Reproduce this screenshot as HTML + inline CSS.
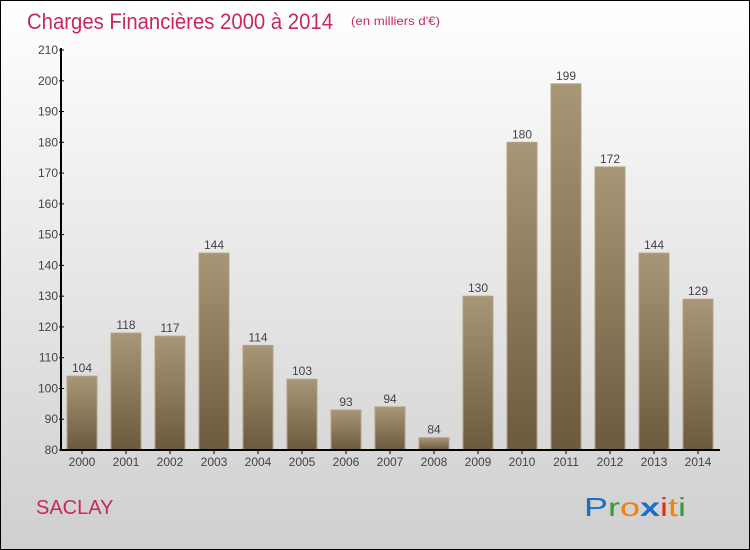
<!DOCTYPE html>
<html><head><meta charset="utf-8"><style>
body{margin:0}
#c{width:750px;height:550px;position:relative;box-sizing:border-box;border:1px solid #000;background:linear-gradient(#fff,#cfcfcf);font-family:"Liberation Sans",sans-serif;overflow:hidden}
</style></head><body>
<div id="c">
<svg width="750" height="550" style="position:absolute;left:-1px;top:-1px">
<defs><linearGradient id="bg" x1="0" y1="0" x2="0" y2="1"><stop offset="0" stop-color="#a89776"/><stop offset="1" stop-color="#6b5a3e"/></linearGradient></defs>
<text x="27" y="29" font-size="22" fill="#c8285a" textLength="306" lengthAdjust="spacingAndGlyphs">Charges Financières 2000 à 2014</text>
<text x="351" y="25" font-size="12" fill="#c8285a" textLength="89" lengthAdjust="spacingAndGlyphs">(en milliers d'€)</text>
<g id="plot"></g>
<text x="36" y="514" font-size="20" fill="#c8285a">SACLAY</text>
<g font-size="26" font-family="Liberation Sans, sans-serif">
<text x="584" y="516" textLength="102" lengthAdjust="spacingAndGlyphs"><tspan fill="#1a6fc8">P</tspan><tspan fill="#3a9a3a">r</tspan><tspan fill="#f08010">o</tspan><tspan fill="#1a6fc8" font-weight="bold">x</tspan><tspan fill="#e03010">i</tspan><tspan fill="#f08010">t</tspan><tspan fill="#3a9a3a">i</tspan></text></g>
</svg>
</div>
<script>
const years=["2000","2001","2002","2003","2004","2005","2006","2007","2008","2009","2010","2011","2012","2013","2014"];
const values=[104,118,117,144,114,103,93,94,84,130,180,199,172,144,129];
const yTicks=[80,90,100,110,120,130,140,150,160,170,180,190,200,210];
const NS="http://www.w3.org/2000/svg";
const g=document.getElementById('plot');
const y=v=>450-(v-80)*400/130;
const x=i=>82+i*44;
function mk(t,a,txt){const e=document.createElementNS(NS,t);for(const k in a)e.setAttribute(k,a[k]);if(txt!==undefined)e.textContent=txt;g.appendChild(e);return e;}
values.forEach((v,i)=>{
 const r=mk('rect',{x:x(i)-15,y:y(v),width:30,height:450-y(v),fill:'url(#bg)',stroke:'#b3a283','stroke-width':1});
 
 
 const l=mk('text',{x:x(i),y:y(v)-4,'font-size':12,fill:'#444','text-anchor':'middle'},v);
 
 
 const t=mk('text',{x:x(i),y:466,'font-size':12,fill:'#444','text-anchor':'middle'},years[i]);
 
 
 mk('line',{x1:x(i),x2:x(i),y1:450,y2:454,stroke:'#000'});
});
yTicks.forEach(v=>{
 mk('line',{x1:59,x2:64,y1:y(v),y2:y(v),stroke:'#000'});
 const t=mk('text',{x:58,y:y(v)+4,'font-size':12,fill:'#444','text-anchor':'end'},v);
 
 
});
const ya=mk('line',{x1:61,x2:61,y1:48,y2:451,stroke:'#000','stroke-width':2});


const xa=mk('line',{x1:60,x2:720,y1:450,y2:450,stroke:'#000','stroke-width':2});


</script>
</body></html>
